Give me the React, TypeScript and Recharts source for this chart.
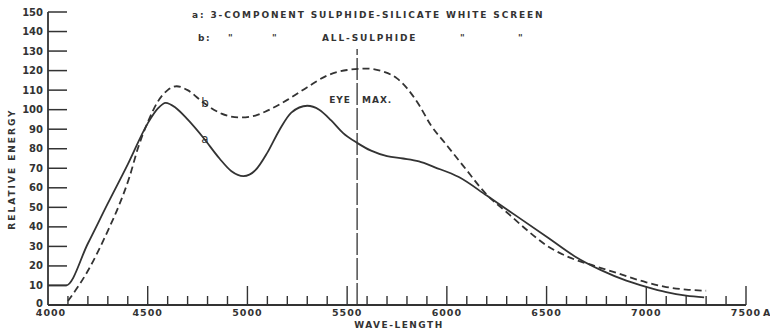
import { LineChart, Line, XAxis, YAxis, ReferenceLine } from 'recharts';

// wavelength axis (Angstrom) and relative energy axis
const wavelengthTicks = [
  4000, 4100, 4200, 4300, 4400, 4500, 4600, 4700, 4800, 4900,
  5000, 5100, 5200, 5300, 5400, 5500, 5600, 5700, 5800, 5900,
  6000, 6100, 6200, 6300, 6400, 6500, 6600, 6700, 6800, 6900,
  7000, 7100, 7200, 7300, 7400, 7500,
];
const energyTicks = [0, 10, 20, 30, 40, 50, 60, 70, 80, 90, 100, 110, 120, 130, 140, 150];

// curve a: 3-component sulphide-silicate white screen (solid)
const curveAWave = [
  4000, 4090, 4200, 4300, 4400, 4500, 4550, 4590, 4640, 4700, 4780, 4860, 4920, 4980,
  5040, 5100, 5160, 5220, 5300, 5360, 5420, 5480, 5550, 5620, 5700, 5780, 5860, 5940,
  6060, 6200, 6350, 6520, 6640, 6770, 6900, 7000, 7100, 7200, 7290,
];
const curveAEnergy = [
  10, 10, 31.5, 52, 72, 93, 100.5, 103.5, 101, 95, 85.5, 75, 68.5, 66,
  69, 78, 89.5, 98.5, 102, 100, 94.5, 88, 83, 79, 76.2, 75, 73.5, 70.5,
  65.5, 56, 45.5, 33.5, 25, 18, 12.5, 9.3, 6.6, 4.8, 3.9,
];

// curve b: all-sulphide white screen (dashed)
const curveBWave = [
  4100, 4200, 4300, 4360, 4410, 4450, 4500, 4550, 4600, 4645, 4700, 4780, 4870, 4960,
  5040, 5100, 5200, 5300, 5400, 5500, 5600, 5680, 5750, 5800, 5860, 5920, 5990, 6080,
  6200, 6300, 6400, 6500, 6600, 6740, 6850, 7000, 7100, 7200, 7300,
];
const curveBEnergy = [
  2, 17.5, 38, 52, 66, 80, 93.5, 104, 110, 112, 110, 103.5, 98, 96,
  97, 99.5, 105, 111.5, 117.5, 120.3, 121, 119.5, 116, 111, 102.5, 92, 83, 71.5,
  56.5, 47.5, 38.5, 30.5, 25, 20, 16.5, 11.6, 9.2, 7.9, 7.3,
];

const eyeMaxWave = 5550;
const eyeMaxTop = 131;

const INK = '#333';
const FONT = '"DejaVu Sans", sans-serif';

const curveA = curveAWave.map((w, i) => ({ w, e: curveAEnergy[i] }));
const curveB = curveBWave.map((w, i) => ({ w, e: curveBEnergy[i] }));

const XTick = (props: any) => {
  const { x, y, payload } = props;
  const v = payload.value;
  const major = v % 500 === 0;
  return (
    <g>
      {v !== 4000 && (
        <line x1={x} y1={y} x2={x} y2={y - (major ? 19 : 9)} stroke={INK} strokeWidth={1.4} />
      )}
      {major && (
        <text x={x + (v === 4000 ? 3 : 0)} y={y + 11} textAnchor="middle" fill={INK} fontFamily={FONT} fontSize={9.5} fontWeight="bold" letterSpacing={1}>
          {v}
        </text>
      )}
      {v === 7500 && (
        <text x={x + 17} y={y + 11} fill={INK} fontFamily={FONT} fontSize={9.5} fontWeight="bold">
          A
        </text>
      )}
    </g>
  );
};

const YTick = (props: any) => {
  const { x, y, payload } = props;
  return (
    <g>
      <line x1={x} y1={y} x2={x + 19} y2={y} stroke={INK} strokeWidth={1.5} />
      <text x={x - 5} y={payload.value === 0 ? y - 2 : y} dy="0.35em" textAnchor="end" fill={INK} fontFamily={FONT} fontSize={10} fontWeight="bold">
        {payload.value}
      </text>
    </g>
  );
};

const noteProps = { fill: INK, fontFamily: FONT, fontSize: 9, fontWeight: 'bold', letterSpacing: 1.5, dominantBaseline: 'central' } as any;

const CurveLabel = ({ x, y, text }: { x: number; y: number; text: string }) => (
  <g>
    <rect x={x - 5} y={y - 7} width={10} height={13} fill="#fff" />
    <text x={x} y={y} textAnchor="middle" dominantBaseline="central" fill={INK} fontFamily={FONT} fontSize={12}>
      {text}
    </text>
  </g>
);

export default function App() {
  return (
    <div style={{ position: 'absolute', left: 0, top: 0, background: '#fff' }}>
      <LineChart width={770} height={333} margin={{ top: 12, right: 24, bottom: 0, left: 0 }}>
        <XAxis
          type="number"
          dataKey="w"
          domain={[4000, 7500]}
          ticks={wavelengthTicks}
          interval={0}
          height={28}
          tickSize={0}
          tickMargin={0}
          tick={<XTick />}
          axisLine={{ stroke: INK, strokeWidth: 1.8 }}
          allowDuplicatedCategory={false}
        />
        <YAxis
          type="number"
          domain={[0, 150]}
          ticks={energyTicks}
          interval={0}
          width={48}
          tickSize={0}
          tickMargin={0}
          tick={<YTick />}
          axisLine={{ stroke: INK, strokeWidth: 1.8 }}
        />
        <ReferenceLine
          segment={[{ x: eyeMaxWave, y: 0 }, { x: eyeMaxWave, y: eyeMaxTop }]}
          stroke={INK}
          strokeWidth={1.3}
          strokeDasharray="22 3"
          ifOverflow="visible"
        />
        <Line data={curveB} dataKey="e" type="monotone" stroke={INK} strokeWidth={1.8} strokeDasharray="7 4" dot={false} isAnimationActive={false} />
        <Line data={curveA} dataKey="e" type="monotone" stroke={INK} strokeWidth={1.8} dot={false} isAnimationActive={false} />

        <text x={12} y={169} transform="rotate(-90 12 169)" textAnchor="middle" dominantBaseline="central" fill={INK} fontFamily={FONT} fontSize={9} fontWeight="bold" letterSpacing={2}>
          RELATIVE ENERGY
        </text>
        <text x={399} y={325} textAnchor="middle" dominantBaseline="central" fill={INK} fontFamily={FONT} fontSize={9} fontWeight="bold" letterSpacing={1.5}>
          WAVE-LENGTH
        </text>

        <text x={192} y={15} textLength={352} lengthAdjust="spacing" {...noteProps}>
          a: 3-COMPONENT SULPHIDE-SILICATE WHITE SCREEN
        </text>
        <text x={198} y={38} {...noteProps}>b:</text>
        <text x={228} y={38} {...noteProps}>"</text>
        <text x={272} y={38} {...noteProps}>"</text>
        <text x={322} y={38} textLength={95} lengthAdjust="spacing" {...noteProps}>ALL-SULPHIDE</text>
        <text x={460} y={38} {...noteProps}>"</text>
        <text x={518} y={38} {...noteProps}>"</text>

        <text x={351} y={100} textAnchor="end" {...noteProps} letterSpacing={1}>EYE</text>
        <text x={362} y={100} {...noteProps} letterSpacing={1}>MAX.</text>

        <CurveLabel x={205} y={103} text="b" />
        <CurveLabel x={205} y={139} text="a" />
      </LineChart>
    </div>
  );
}
